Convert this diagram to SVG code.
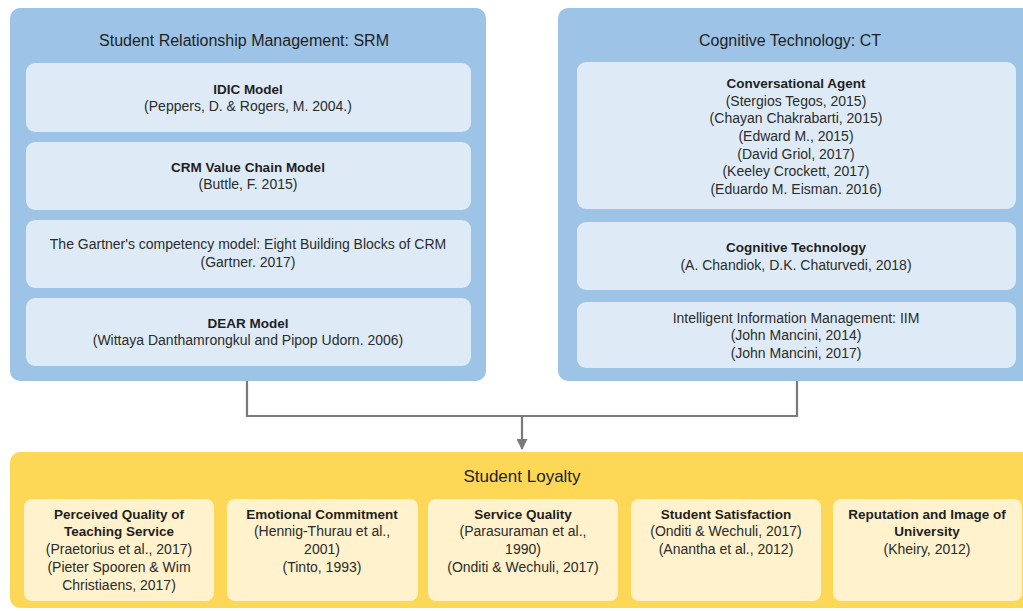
<svg xmlns="http://www.w3.org/2000/svg" width="1023" height="611" viewBox="0 0 1023 611">
<defs>
<style>
text{font-family:"Liberation Sans",Arial,sans-serif;text-anchor:middle;fill:#2b2b2b;font-size:14px}
.h{font-weight:bold;fill:#1f1f1f;font-size:13.5px}
.t{font-size:16px;fill:#1f1f1f}
.panel{fill:#9dc3e6}
.inner{fill:#deebf7}
.ypanel{fill:#fcd856}
.yinner{fill:#fff2cc}
.conn{fill:none;stroke:#7a7a7a;stroke-width:2.2}
</style>
<marker id="arr" viewBox="0 0 10 10" refX="9" refY="5" markerWidth="5" markerHeight="5" orient="auto">
<path d="M0,0 L10,5 L0,10 z" fill="#7a7a7a"/>
</marker>
</defs>
<rect width="1023" height="611" fill="#ffffff"/>

<g id="connectors">
<path class="conn" d="M247,381 V416 H797 V381"/>
<path class="conn" d="M522,416 V449" marker-end="url(#arr)"/>
</g>

<g id="srm">
<rect class="panel" x="10" y="8" width="476" height="373" rx="10"/>
<text class="t" x="244" y="46">Student Relationship Management: SRM</text>
</g>
<g id="idic">
<rect class="inner" x="26" y="63" width="445" height="69" rx="9"/>
<text class="h" x="248" y="94">IDIC Model</text>
<text x="248" y="111">(Peppers, D. &amp; Rogers, M. 2004.)</text>
</g>
<g id="crm-value">
<rect class="inner" x="26" y="142" width="445" height="68" rx="9"/>
<text class="h" x="248" y="172">CRM Value Chain Model</text>
<text x="248" y="189">(Buttle, F. 2015)</text>
</g>
<g id="gartner">
<rect class="inner" x="26" y="220" width="445" height="68" rx="9"/>
<text x="248" y="249">The Gartner's competency model: Eight Building Blocks of CRM</text>
<text x="248" y="267">(Gartner. 2017)</text>
</g>
<g id="dear">
<rect class="inner" x="26" y="298" width="445" height="68" rx="9"/>
<text class="h" x="248" y="328">DEAR Model</text>
<text x="248" y="345">(Wittaya Danthamrongkul and Pipop Udorn. 2006)</text>
</g>

<g id="ct">
<rect class="panel" x="558" y="8" width="475" height="373" rx="10"/>
<text class="t" x="790" y="46">Cognitive Technology: CT</text>
</g>
<g id="conv-agent">
<rect class="inner" x="577" y="62" width="439" height="147" rx="9"/>
<text class="h" x="796" y="88">Conversational Agent</text>
<text x="796" y="106">(Stergios Tegos, 2015)</text>
<text x="796" y="123">(Chayan Chakrabarti, 2015)</text>
<text x="796" y="141">(Edward M., 2015)</text>
<text x="796" y="159">(David Griol, 2017)</text>
<text x="796" y="176">(Keeley Crockett, 2017)</text>
<text x="796" y="194">(Eduardo M. Eisman. 2016)</text>
</g>
<g id="cog-tech">
<rect class="inner" x="577" y="222" width="439" height="68" rx="9"/>
<text class="h" x="796" y="252">Cognitive Technology</text>
<text x="796" y="270">(A. Chandiok, D.K. Chaturvedi, 2018)</text>
</g>
<g id="iim">
<rect class="inner" x="577" y="302" width="439" height="66" rx="9"/>
<text x="796" y="323">Intelligent Information Management: IIM</text>
<text x="796" y="340">(John Mancini, 2014)</text>
<text x="796" y="358">(John Mancini, 2017)</text>
</g>

<g id="loyalty">
<rect class="ypanel" x="10" y="452" width="1023" height="156" rx="10"/>
<text class="t" x="522" y="482" style="font-size:17px">Student Loyalty</text>
</g>
<g id="pq">
<rect class="yinner" x="24" y="499" width="190" height="102" rx="8"/>
<text class="h" x="119" y="519">Perceived Quality of</text>
<text class="h" x="119" y="536">Teaching Service</text>
<text x="119" y="554">(Praetorius et al., 2017)</text>
<text x="119" y="572">(Pieter Spooren &amp; Wim</text>
<text x="119" y="590">Christiaens, 2017)</text>
</g>
<g id="ec">
<rect class="yinner" x="227" y="499" width="191" height="102" rx="8"/>
<text class="h" x="322" y="519">Emotional Commitment</text>
<text x="322" y="536">(Hennig-Thurau et al.,</text>
<text x="322" y="554">2001)</text>
<text x="322" y="572">(Tinto, 1993)</text>
</g>
<g id="sq">
<rect class="yinner" x="428" y="499" width="190" height="102" rx="8"/>
<text class="h" x="523" y="519">Service Quality</text>
<text x="523" y="536">(Parasuraman et al.,</text>
<text x="523" y="554">1990)</text>
<text x="523" y="572">(Onditi &amp; Wechuli, 2017)</text>
</g>
<g id="ss">
<rect class="yinner" x="631" y="499" width="190" height="102" rx="8"/>
<text class="h" x="726" y="519">Student Satisfaction</text>
<text x="726" y="536">(Onditi &amp; Wechuli, 2017)</text>
<text x="726" y="554">(Anantha et al., 2012)</text>
</g>
<g id="rep">
<rect class="yinner" x="833" y="499" width="189" height="102" rx="8"/>
<text class="h" x="927" y="519">Reputation and Image of</text>
<text class="h" x="927" y="536">University</text>
<text x="927" y="554">(Kheiry, 2012)</text>
</g>
</svg>
